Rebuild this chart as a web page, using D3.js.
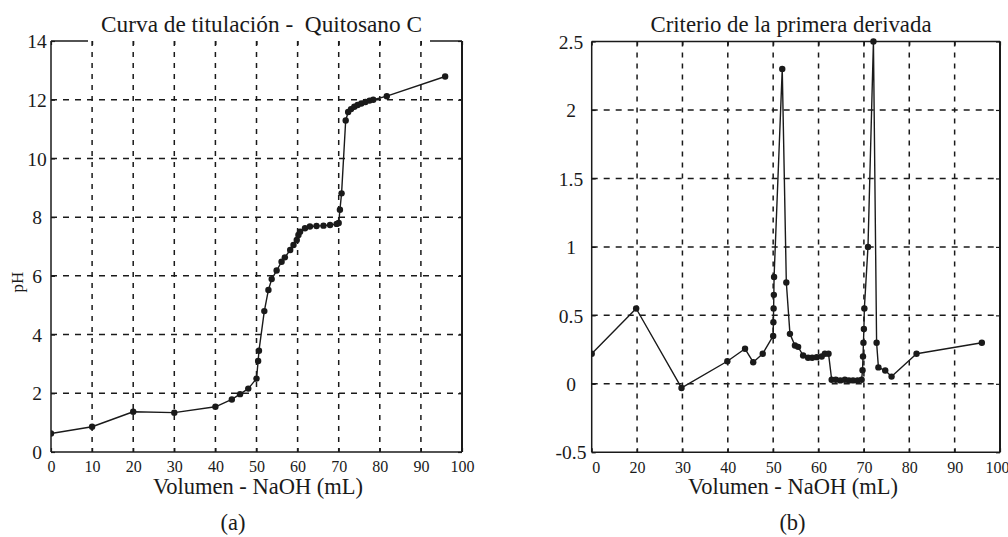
<!DOCTYPE html>
<html><head><meta charset="utf-8">
<script src="https://cdn.jsdelivr.net/npm/d3@7"></script>
<style>
body{margin:0;background:#fff}
svg{display:block}
text{font-family:"Liberation Serif","Times New Roman",serif;fill:#1a1a1a}
</style>
</head><body>
<svg id="c" width="1008" height="537"></svg>
<script>
// ---------- data ----------
const volA = [0,10,20,30,40,44,46,48,50,50.4,50.6,51.9,52.9,53.7,54.9,56.1,56.9,58.2,59,59.8,60.2,60.6,61.8,63,64.6,66.3,67.9,69.5,70,70.3,70.7,71.7,72.3,73,73.8,74.6,75.5,76.5,77.5,78.4,81.7,95.9];
const phA  = [0.63,0.86,1.37,1.34,1.54,1.79,1.97,2.16,2.5,3.1,3.45,4.8,5.52,5.89,6.18,6.48,6.63,6.88,7.05,7.22,7.39,7.5,7.62,7.68,7.7,7.71,7.73,7.77,7.8,8.25,8.81,11.29,11.58,11.68,11.76,11.82,11.87,11.92,11.97,12.0,12.12,12.79];

const volB = [10,19.8,29.8,39.9,43.8,45.6,47.7,50,50.05,50.1,50.15,50.2,52,52.9,53.7,54.8,55.5,56.6,57.7,58.6,59.6,60.7,61.4,62.2,62.9,63.8,64.8,65.8,66.7,67.6,68.6,69.5,69.7,69.8,69.9,70,70.1,70.9,72.1,72.8,73.2,74.7,76.1,81.6,96];
const derivB = [0.22,0.55,-0.03,0.165,0.256,0.158,0.22,0.35,0.45,0.55,0.65,0.78,2.3,0.74,0.365,0.28,0.27,0.207,0.19,0.19,0.195,0.2,0.22,0.22,0.03,0.03,0.025,0.03,0.025,0.025,0.025,0.03,0.1,0.2,0.3,0.4,0.55,1.0,2.5,0.3,0.12,0.097,0.053,0.22,0.3];

const xTicksA = [0,10,20,30,40,50,60,70,80,90,100];
const xLabelsA = ["0","10","20","30","40","50","60","70","80","90","100"];
const yTicksA = [0,2,4,6,8,10,12,14];
const yLabelsA = ["0","2","4","6","8","10","12","14"];

const xTicksB = [10,20,30,40,50,60,70,80,90,100];
const xLabelsB = ["0","20","30","40","50","60","70","80","90","100"];
const yTicksB = [-0.5,0,0.5,1,1.5,2,2.5];
const yLabelsB = ["-0.5","0","0.5","1","1.5","2","2.5"];

const titleA = "Curva de titulación -  Quitosano C";
const titleB = "Criterio de la primera derivada";
const xTitle = "Volumen - NaOH (mL)";
const yTitleA = "pH";
const capA = "(a)", capB = "(b)";

// ---------- drawing ----------
const svg = d3.select("#c");
const ink = "#1a1a1a";

function panel(o){
  const g = svg.append("g");
  const x = d3.scaleLinear().domain(o.xDomain).range([o.left,o.right]);
  const y = d3.scaleLinear().domain(o.yDomain).range([o.bottom,o.top]);
  const W = o.right-o.left, H = o.bottom-o.top;

  const cid = "clip"+o.id;
  svg.append("clipPath").attr("id",cid).append("rect")
    .attr("x",o.left).attr("y",o.top-5).attr("width",W+1).attr("height",H+5);

  // frame
  g.append("line").attr("x1",o.left).attr("x2",o.left).attr("y1",o.top).attr("y2",o.bottom).attr("stroke",ink).attr("stroke-width",1.5);
  g.append("line").attr("x1",o.left).attr("x2",o.right).attr("y1",o.bottom).attr("y2",o.bottom).attr("stroke",ink).attr("stroke-width",1.5);
  g.append("line").attr("x1",o.right).attr("x2",o.right).attr("y1",o.top).attr("y2",o.bottom).attr("stroke",ink).attr("stroke-width",2);
  g.append("line").attr("x1",o.left).attr("x2",o.right).attr("y1",o.top).attr("y2",o.top).attr("stroke",ink).attr("stroke-width",1.5);
  if(o.gap){
    g.append("rect").attr("x",o.gap[0]).attr("y",o.top-3).attr("width",o.gap[1]-o.gap[0]).attr("height",6).attr("fill","#fff");
  }

  // grid
  g.selectAll(".vg").data(o.xTicks.filter(v=>v>o.xDomain[0]&&v<o.xDomain[1])).join("line")
    .attr("x1",d=>x(d)).attr("x2",d=>x(d)).attr("y1",o.top).attr("y2",o.bottom)
    .attr("stroke",ink).attr("stroke-width",1.5).attr("stroke-dasharray","5,6");
  g.selectAll(".hg").data(o.yTicks.filter(v=>v>o.yDomain[0]&&v<o.yDomain[1])).join("line")
    .attr("x1",o.left).attr("x2",o.right).attr("y1",d=>y(d)).attr("y2",d=>y(d))
    .attr("stroke",ink).attr("stroke-width",1.5).attr("stroke-dasharray","6,6");

  // axes
  const ax = g.append("g").attr("transform",`translate(0,${o.bottom})`)
    .call(d3.axisBottom(x).tickValues(o.xTicks).tickFormat((d,i)=>o.xLabels[i]).tickSizeInner(-4).tickSizeOuter(0).tickPadding(9));
  ax.select(".domain").remove();
  ax.selectAll("line").attr("stroke",ink).attr("stroke-width",1.2);
  ax.selectAll("text").attr("font-size",16).style("font-family","Liberation Serif").attr("fill",ink);
  if(o.xLabelShift){ ax.selectAll("text").attr("dx",(d,i)=>o.xLabelShift[i]||0); }

  const ay = g.append("g").attr("transform",`translate(${o.left},0)`)
    .call(d3.axisLeft(y).tickValues(o.yTicks).tickFormat((d,i)=>o.yLabels[i]).tickSizeInner(-4).tickSizeOuter(0));
  ay.select(".domain").remove();
  ay.selectAll("line").attr("stroke",ink).attr("stroke-width",1.2);
  ay.selectAll("text").attr("font-size",19.5).style("font-family","Liberation Serif").attr("fill",ink)
    .attr("text-anchor","middle").attr("x",o.yLabelX-o.left).attr("dy","0.34em");

  const at = g.append("g").attr("transform",`translate(0,${o.top})`)
    .call(d3.axisTop(x).tickValues(o.xTicks).tickFormat("").tickSizeInner(-4).tickSizeOuter(0));
  at.select(".domain").remove(); at.selectAll("line").attr("stroke",ink).attr("stroke-width",1.2);
  const ar = g.append("g").attr("transform",`translate(${o.right},0)`)
    .call(d3.axisRight(y).tickValues(o.yTicks).tickFormat("").tickSizeInner(-4).tickSizeOuter(0));
  ar.select(".domain").remove(); ar.selectAll("line").attr("stroke",ink).attr("stroke-width",1.2);

  // data
  const pts = o.xs.map((v,i)=>[v,o.ys[i]]);
  const dg = g.append("g").attr("clip-path",`url(#${cid})`);
  dg.append("path").datum(pts)
    .attr("d",d3.line().x(d=>x(d[0])).y(d=>y(d[1])))
    .attr("fill","none").attr("stroke",ink).attr("stroke-width",1.4).attr("stroke-linejoin","round");
  dg.selectAll("circle").data(pts).join("circle")
    .attr("cx",d=>x(d[0])).attr("cy",d=>y(d[1])).attr("r",3.2).attr("fill",ink);

  // texts
  g.append("text").attr("x",o.titleX).attr("y",32).attr("text-anchor","middle")
    .attr("xml:space","preserve").style("white-space","pre")
    .attr("font-size",o.titleSize).text(o.title);
  g.append("text").attr("x",o.xTitleX).attr("y",494).attr("text-anchor","middle")
    .attr("font-size",22.5).text(xTitle);
  g.append("text").attr("x",o.capX).attr("y",530).attr("text-anchor","middle")
    .attr("font-size",22.5).text(o.caption);
  if(o.yTitle){
    g.append("text").attr("transform",`translate(23,282) rotate(-90)`).attr("text-anchor","middle")
      .attr("font-size",17).text(o.yTitle);
  }
}

panel({id:"A", left:51, right:462, top:41, bottom:452,
  xDomain:[0,100], yDomain:[0,14],
  xTicks:xTicksA, xLabels:xLabelsA, yTicks:yTicksA, yLabels:yLabelsA,
  xs:volA, ys:phA, title:titleA, titleX:261.5, titleSize:23.3, xTitleX:258, capX:233, caption:capA, yTitle:yTitleA,
  yLabelX:37, gap:[88,430]});

panel({id:"B", left:591.7, right:1000, top:41.5, bottom:452.3,
  xDomain:[10,100], yDomain:[-0.5,2.5],
  xTicks:xTicksB, xLabels:xLabelsB, yTicks:yTicksB, yLabels:yLabelsB,
  xs:volB, ys:derivB, title:titleB, titleX:791, titleSize:22.8, xTitleX:793, capX:792.5, caption:capB,
  yLabelX:571, xLabelShift:[4,0,0,0,0,0,0,0,0,-3]});
</script>
</body></html>
